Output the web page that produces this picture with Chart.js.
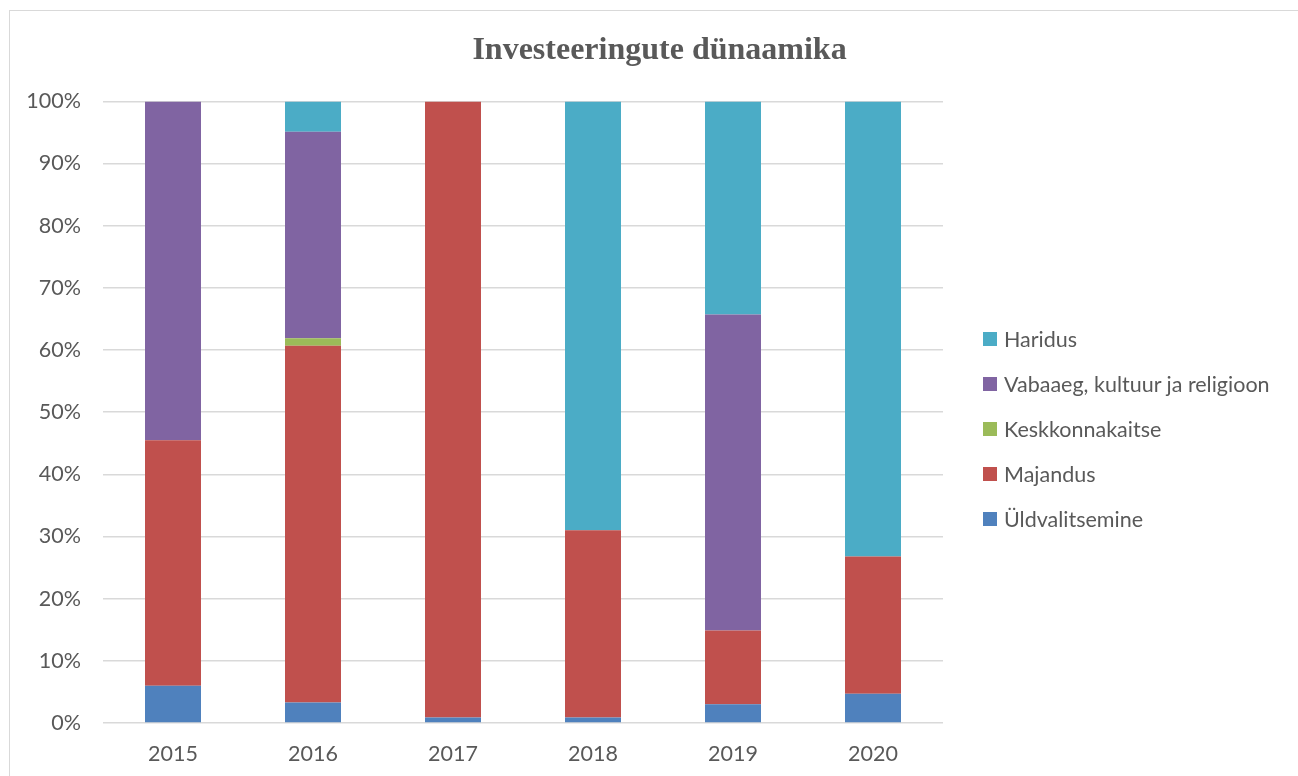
<!DOCTYPE html>
<html>
<head>
<meta charset="utf-8">
<script src="https://cdn.jsdelivr.net/npm/chart.js@4/dist/chart.umd.min.js"></script>
<style>
    html, body { margin: 0; padding: 0; background: #fff; overflow: hidden; }
    #box {
        position: absolute; left: 9px; top: 10px;
        width: 1299px; height: 766px;
        border-top: 1px solid #d9d9d9; border-left: 1px solid #d9d9d9;
    }
    #chart { display: block; }
    #legend {
        position: absolute; left: 973px; top: 305px;
        font-family: Lato, sans-serif; font-size: 21.5px; color: #595959;
    }
    .item { display: flex; align-items: center; height: 45px; white-space: nowrap; }
    .swatch { width: 14px; height: 14px; margin-right: 7px; flex: none; }
</style>
</head>
<body>
<div id="box">
    <canvas id="chart" width="1299" height="766"></canvas>
    <div id="legend"></div>
</div>
<script>
// values, share of yearly investments (%)
const years = ['2015', '2016', '2017', '2018', '2019', '2020'];
const yldvalitsemine = [6.0, 3.3, 0.9, 0.9, 3.0, 4.7];
const majandus = [39.5, 57.4, 99.1, 30.1, 11.9, 22.1];
const keskkonnakaitse = [0, 1.2, 0, 0, 0, 0];
const vabaaeg = [54.5, 33.2, 0, 0, 50.8, 0];
const haridus = [0, 4.9, 0, 69.0, 34.3, 73.2];

const textColor = '#595959';
const gridColor = '#d9d9d9';
const tickFont = { family: 'Lato, sans-serif', size: 21.5 };

// the title should be centred over the whole chart box, not only the part left of the legend
const wideTitle = {
    id: 'wideTitle',
    afterLayout(chart) {
        chart.titleBlock.left = 0;
        chart.titleBlock.right = chart.width;
        chart.titleBlock.width = chart.width;
    }
};

function series(label, data, color) {
    return { label: label, data: data, backgroundColor: color, borderWidth: 0 };
}

const chart = new Chart(document.getElementById('chart'), {
    type: 'bar',
    data: {
        labels: years,
        datasets: [
            series('Üldvalitsemine', yldvalitsemine, '#4f81bd'),
            series('Majandus', majandus, '#c0504d'),
            series('Keskkonnakaitse', keskkonnakaitse, '#9bbb59'),
            series('Vabaaeg, kultuur ja religioon', vabaaeg, '#8064a2'),
            series('Haridus', haridus, '#4bacc6')
        ]
    },
    options: {
        responsive: false,
        animation: false,
        // room on the right for the html legend
        layout: { padding: { left: 0, right: 366, top: 0, bottom: 0 } },
        datasets: { bar: { categoryPercentage: 1.0, barPercentage: 0.4 } },
        plugins: {
            title: {
                display: true,
                text: 'Investeeringute dünaamika',
                color: textColor,
                font: { family: '"Liberation Serif", "Times New Roman", serif', size: 32, weight: 'bold' },
                padding: { top: 21, bottom: 31 }
            },
            legend: { display: false },
            tooltip: { enabled: false }
        },
        scales: {
            x: {
                stacked: true,
                grid: { display: false },
                border: { display: false },
                ticks: { color: textColor, font: tickFont, padding: 10 },
                afterFit: function (scale) { scale.height = 54; }
            },
            y: {
                stacked: true,
                min: 0,
                max: 100,
                grid: { color: gridColor, lineWidth: 1.5, drawTicks: false },
                border: { display: false },
                ticks: {
                    stepSize: 10,
                    color: textColor,
                    font: tickFont,
                    padding: 22,
                    callback: function (value) { return value + '%'; }
                },
                afterFit: function (scale) { scale.width = 93; }
            }
        }
    },
    plugins: [wideTitle]
});

// legend, top to bottom in reverse stacking order
var legend = document.getElementById('legend');
chart.data.datasets.slice().reverse().forEach(function (ds) {
    var item = document.createElement('div');
    item.className = 'item';
    var swatch = document.createElement('span');
    swatch.className = 'swatch';
    swatch.style.background = ds.backgroundColor;
    var label = document.createElement('span');
    label.textContent = ds.label;
    item.appendChild(swatch);
    item.appendChild(label);
    legend.appendChild(item);
});
</script>
</body>
</html>
